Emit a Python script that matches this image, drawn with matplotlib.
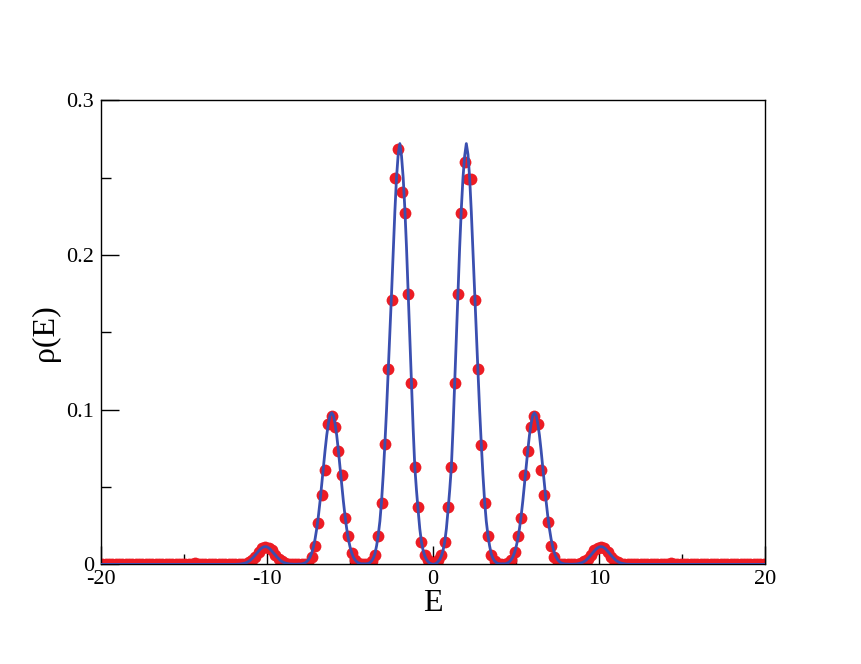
import numpy as np
import matplotlib
matplotlib.use("Agg")
import matplotlib.pyplot as plt
from matplotlib.ticker import MultipleLocator, FuncFormatter

plt.rcParams['font.family'] = ['Liberation Serif', 'DejaVu Serif']
plt.rcParams['axes.unicode_minus'] = False

# histogram points, bin centres -19.9 ... 19.9 (step 0.2)
pts_e = np.round(np.arange(-19.9, 20.0, 0.2), 1)
pts_rho = [
    # -19.9 .. -11.3
    0.0004, 0.0004, 0.0004, 0.0004, 0.0004, 0.0004, 0.0004, 0.0004, 0.0004, 0.0004,
    0.0004, 0.0004, 0.0004, 0.0004, 0.0004, 0.0004, 0.0004, 0.0004, 0.0004, 0.0004,
    0.0004, 0.0004, 0.0004, 0.0004, 0.0004, 0.0004, 0.0004, 0.0004, 0.0010, 0.0004,
    0.0004, 0.0004, 0.0004, 0.0004, 0.0004, 0.0004, 0.0004, 0.0004, 0.0004, 0.0004,
    0.0004, 0.0004, 0.0004, 0.0004,
    # -11.1 .. -7.5
    0.0015, 0.0030, 0.0050, 0.0080, 0.0105, 0.0110, 0.0105, 0.0090, 0.0060, 0.0035,
    0.0020, 0.0010, 0.0004, 0.0004, 0.0004, 0.0004, 0.0004, 0.0004, 0.0004,
    # -7.3 .. -3.9
    0.0050, 0.0120, 0.0270, 0.0450, 0.0610, 0.0906, 0.0960, 0.0890, 0.0734, 0.0575,
    0.0302, 0.0186, 0.0076, 0.0030, 0.0010, 0.0004, 0.0004, 0.0004,
    # -3.7 .. -0.1
    0.0020, 0.0060, 0.0186, 0.0397, 0.0775, 0.1261, 0.1710, 0.2496, 0.2683, 0.2410,
    0.2270, 0.1748, 0.1175, 0.0627, 0.0373, 0.0143, 0.0060, 0.0030, 0.0010,
    # 0.1 .. 3.7
    0.0010, 0.0030, 0.0060, 0.0143, 0.0373, 0.0627, 0.1175, 0.1748, 0.2274, 0.2603,
    0.2494, 0.2494, 0.1710, 0.1261, 0.0771, 0.0397, 0.0186, 0.0060, 0.0020,
    # 3.9 .. 7.3
    0.0004, 0.0004, 0.0004, 0.0010, 0.0030, 0.0079, 0.0186, 0.0302, 0.0575, 0.0734,
    0.0889, 0.0960, 0.0906, 0.0608, 0.0446, 0.0272, 0.0121, 0.0050,
    # 7.5 .. 11.1
    0.0004, 0.0004, 0.0004, 0.0004, 0.0004, 0.0004, 0.0004, 0.0010, 0.0020, 0.0035,
    0.0060, 0.0090, 0.0105, 0.0110, 0.0105, 0.0080, 0.0050, 0.0030, 0.0015,
    # 11.3 .. 19.9
    0.0004, 0.0004, 0.0004, 0.0004, 0.0004, 0.0004, 0.0004, 0.0004, 0.0004, 0.0004,
    0.0004, 0.0004, 0.0004, 0.0004, 0.0004, 0.0010, 0.0004, 0.0004, 0.0004, 0.0004,
    0.0004, 0.0004, 0.0004, 0.0004, 0.0004, 0.0004, 0.0004, 0.0004, 0.0004, 0.0004,
    0.0004, 0.0004, 0.0004, 0.0004, 0.0004, 0.0004, 0.0004, 0.0004, 0.0004, 0.0004,
    0.0004, 0.0004, 0.0004, 0.0004,
]

# smooth curve, -12 .. 12 step 0.1, plus the flat ends
curve_e = np.concatenate([[-20.0], np.round(np.arange(-12.0, 12.05, 0.1), 1), [20.0]])
curve_rho = [0.0,
    # -12.0 .. -8.1
    0.0000, 0.0000, 0.0001, 0.0001, 0.0002, 0.0004, 0.0006, 0.0009, 0.0013, 0.0019,
    0.0027, 0.0037, 0.0048, 0.0061, 0.0074, 0.0086, 0.0098, 0.0107, 0.0113, 0.0115,
    0.0113, 0.0107, 0.0098, 0.0086, 0.0074, 0.0061, 0.0048, 0.0037, 0.0027, 0.0019,
    0.0013, 0.0009, 0.0006, 0.0004, 0.0002, 0.0002, 0.0001, 0.0001, 0.0001, 0.0002,
    # -8.0 .. -4.1
    0.0002, 0.0003, 0.0006, 0.0010, 0.0018, 0.0030, 0.0048, 0.0075, 0.0114, 0.0165,
    0.0232, 0.0314, 0.0410, 0.0516, 0.0628, 0.0737, 0.0835, 0.0912, 0.0963, 0.0980,
    0.0963, 0.0912, 0.0835, 0.0737, 0.0628, 0.0516, 0.0410, 0.0314, 0.0232, 0.0165,
    0.0114, 0.0075, 0.0048, 0.0030, 0.0018, 0.0010, 0.0006, 0.0003, 0.0004, 0.0003,
    # -4.0 .. -0.1
    0.0004, 0.0006, 0.0012, 0.0022, 0.0040, 0.0068, 0.0120, 0.0190, 0.0280, 0.0410,
    0.0580, 0.0780, 0.1000, 0.1250, 0.1500, 0.1750, 0.2020, 0.2280, 0.2500, 0.2650,
    0.2720, 0.2640, 0.2500, 0.2300, 0.2050, 0.1760, 0.1460, 0.1170, 0.0880, 0.0630,
    0.0480, 0.0350, 0.0230, 0.0145, 0.0090, 0.0055, 0.0032, 0.0017, 0.0008, 0.0003,
    # 0.0
    0.0000,
    # 0.1 .. 4.0
    0.0003, 0.0008, 0.0017, 0.0032, 0.0055, 0.0090, 0.0145, 0.0230, 0.0350, 0.0480,
    0.0630, 0.0880, 0.1170, 0.1460, 0.1760, 0.2050, 0.2300, 0.2500, 0.2640, 0.2720,
    0.2650, 0.2500, 0.2280, 0.2020, 0.1750, 0.1500, 0.1250, 0.1000, 0.0780, 0.0580,
    0.0410, 0.0280, 0.0190, 0.0120, 0.0068, 0.0040, 0.0022, 0.0012, 0.0006, 0.0004,
    # 4.1 .. 8.0
    0.0003, 0.0004, 0.0003, 0.0006, 0.0010, 0.0018, 0.0030, 0.0048, 0.0075, 0.0114,
    0.0165, 0.0232, 0.0314, 0.0410, 0.0516, 0.0628, 0.0737, 0.0835, 0.0912, 0.0963,
    0.0980, 0.0963, 0.0912, 0.0835, 0.0737, 0.0628, 0.0516, 0.0410, 0.0314, 0.0232,
    0.0165, 0.0114, 0.0075, 0.0048, 0.0030, 0.0018, 0.0010, 0.0006, 0.0003, 0.0002,
    # 8.1 .. 12.0
    0.0002, 0.0001, 0.0001, 0.0001, 0.0002, 0.0002, 0.0004, 0.0006, 0.0009, 0.0013,
    0.0019, 0.0027, 0.0037, 0.0048, 0.0061, 0.0074, 0.0086, 0.0098, 0.0107, 0.0113,
    0.0115, 0.0113, 0.0107, 0.0098, 0.0086, 0.0074, 0.0061, 0.0048, 0.0037, 0.0027,
    0.0019, 0.0013, 0.0009, 0.0006, 0.0004, 0.0002, 0.0001, 0.0001, 0.0000, 0.0000,
    0.0]

fig = plt.figure(figsize=(8.61, 6.64), dpi=100)
ax = fig.add_axes([0.117, 0.150, 0.772, 0.699])

ax.plot(pts_e, pts_rho, "o", color="#ec1c24", markersize=8.5, markeredgewidth=0, zorder=2)
ax.plot(curve_e, curve_rho, "-", color="#3a4fb0", linewidth=2.0, zorder=3)

ax.set_xlim(-20, 20)
ax.set_ylim(0, 0.3)
ax.xaxis.set_major_locator(MultipleLocator(10))
ax.xaxis.set_minor_locator(MultipleLocator(5))
ax.yaxis.set_major_locator(MultipleLocator(0.1))
ax.yaxis.set_minor_locator(MultipleLocator(0.05))
ax.xaxis.set_major_formatter(FuncFormatter(lambda v, p: "%g" % v))
ax.yaxis.set_major_formatter(FuncFormatter(lambda v, p: "%g" % round(v, 2)))
ax.tick_params(which="both", direction="in", top=False, right=False, labelsize=16, width=1)
ax.tick_params(which="major", length=13)
ax.tick_params(which="minor", length=7)
ax.tick_params(axis="x", pad=4)
ax.tick_params(axis="y", pad=5)
for s in ax.spines.values():
    s.set_linewidth(1)

ax.set_xlabel("E", fontsize=23, labelpad=0)
ax.set_ylabel("ρ(E)", fontsize=23, labelpad=4)

fig.savefig("out.png", dpi=100)
